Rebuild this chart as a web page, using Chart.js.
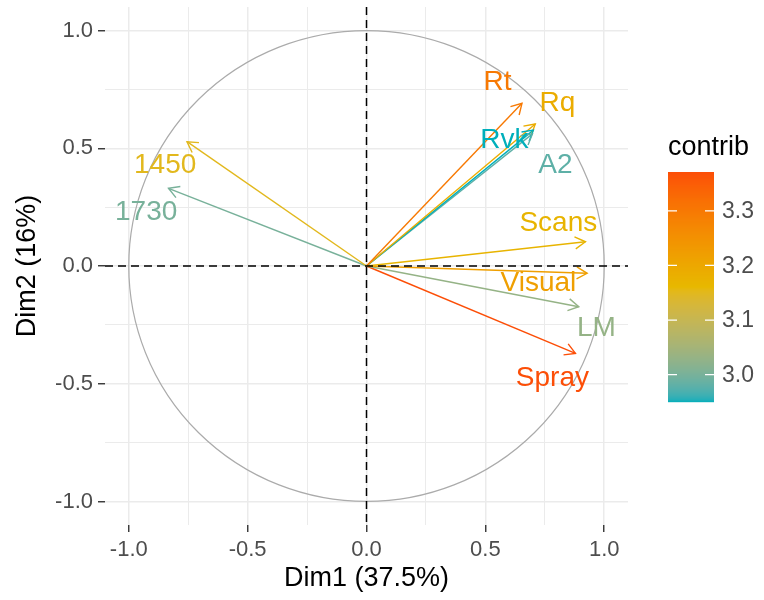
<!DOCTYPE html>
<html>
<head>
<meta charset="utf-8">
<script src="https://cdn.jsdelivr.net/npm/chart.js@4.4.0/dist/chart.umd.min.js"></script>
<style>
  html, body { margin: 0; padding: 0; background: #fff; }
</style>
</head>
<body>
<canvas id="pca-var" width="764" height="600"></canvas>
<script>
// variables of the PCA correlation circle
const variables = ['Rt', 'Rq', 'Rvk', 'A2', 'Scans', 'Visual', 'LM', 'Spray', '1450', '1730'];
const dim1 = [0.654, 0.710, 0.702, 0.698, 0.921, 0.928, 0.893, 0.879, -0.755, -0.833];
const dim2 = [0.691, 0.603, 0.577, 0.561, 0.103, -0.031, -0.173, -0.371, 0.528, 0.330];
const contrib = [3.30, 3.19, 2.95, 2.98, 3.17, 3.22, 3.03, 3.371, 3.15, 3.00];
// where the repelled text labels sit (data units)
const labelDim1 = [0.551, 0.803, 0.580, 0.795, 0.807, 0.723, 0.967, 0.782, -0.847, -0.927];
const labelDim2 = [0.781, 0.692, 0.535, 0.429, 0.183, -0.072, -0.263, -0.476, 0.429, 0.229];

const axisTicks = [-1, -0.5, 0, 0.5, 1];
const gridValues = [-1, -0.75, -0.5, -0.25, 0, 0.25, 0.5, 0.75, 1];
const legendTicks = [3.0, 3.1, 3.2, 3.3];
const gradientCols = ['#00AFBB', '#E7B800', '#FC4E07'];

const FONT = "'Liberation Sans', Arial, sans-serif";

// --- colour gradient in Lab space, like ggplot's gradientn ---
function hexToRgb(h) {
    return [1, 3, 5].map(i => parseInt(h.substr(i, 2), 16));
}
function toLin(c) { c /= 255; return c <= 0.04045 ? c / 12.92 : Math.pow((c + 0.055) / 1.055, 2.4); }
function fromLin(c) { c = c <= 0.0031308 ? 12.92 * c : 1.055 * Math.pow(c, 1 / 2.4) - 0.055; return Math.round(Math.max(0, Math.min(1, c)) * 255); }
const WP = [0.95047, 1, 1.08883];
function rgbToLab(rgb) {
    const [r, g, b] = rgb.map(toLin);
    const xyz = [
        0.4124 * r + 0.3576 * g + 0.1805 * b,
        0.2126 * r + 0.7152 * g + 0.0722 * b,
        0.0193 * r + 0.1192 * g + 0.9505 * b
    ].map((v, i) => v / WP[i]);
    const f = xyz.map(t => t > 0.008856 ? Math.cbrt(t) : 7.787 * t + 16 / 116);
    return [116 * f[1] - 16, 500 * (f[0] - f[1]), 200 * (f[1] - f[2])];
}
function labToRgb(lab) {
    const fy = (lab[0] + 16) / 116, fx = fy + lab[1] / 500, fz = fy - lab[2] / 200;
    const [x, y, z] = [fx, fy, fz].map((t, i) => (t ** 3 > 0.008856 ? t ** 3 : (t - 16 / 116) / 7.787) * WP[i]);
    const r = 3.2406 * x - 1.5372 * y - 0.4986 * z;
    const g = -0.9689 * x + 1.8758 * y + 0.0415 * z;
    const b = 0.0557 * x - 0.2040 * y + 1.0570 * z;
    return 'rgb(' + [r, g, b].map(fromLin).join(',') + ')';
}
const labStops = gradientCols.map(c => rgbToLab(hexToRgb(c)));
const cMin = Math.min(...contrib);
const cMax = Math.max(...contrib);
function contribColor(v) {
    let t = (v - cMin) / (cMax - cMin) * (labStops.length - 1);
    t = Math.max(0, Math.min(labStops.length - 1, t));
    const i = Math.min(Math.floor(t), labStops.length - 2);
    const f = t - i;
    return labToRgb(labStops[i].map((a, k) => a + (labStops[i + 1][k] - a) * f));
}
const colors = contrib.map(contribColor);

// --- plugins ---
const circlePlugin = {
    id: 'circle',
    beforeDatasetsDraw(chart) {
        const { ctx, scales: { x, y } } = chart;
        const cx = x.getPixelForValue(0), cy = y.getPixelForValue(0);
        const rx = x.getPixelForValue(1) - cx, ry = cy - y.getPixelForValue(1);
        ctx.save();
        ctx.strokeStyle = '#ABABAB';
        ctx.lineWidth = 1.2;
        ctx.beginPath();
        ctx.ellipse(cx, cy, rx, ry, 0, 0, Math.PI * 2);
        ctx.stroke();
        ctx.restore();
    }
};

const arrowPlugin = {
    id: 'arrowsAndLabels',
    afterDatasetsDraw(chart) {
        const { ctx, scales: { x, y }, chartArea } = chart;
        ctx.save();
        // arrow heads
        variables.forEach((name, i) => {
            const x0 = x.getPixelForValue(0), y0 = y.getPixelForValue(0);
            const x1 = x.getPixelForValue(dim1[i]), y1 = y.getPixelForValue(dim2[i]);
            const ang = Math.atan2(y1 - y0, x1 - x0);
            const len = 12, spread = Math.PI / 6;
            ctx.strokeStyle = colors[i];
            ctx.lineWidth = 1.4;
            ctx.beginPath();
            ctx.moveTo(x1 - len * Math.cos(ang - spread), y1 - len * Math.sin(ang - spread));
            ctx.lineTo(x1, y1);
            ctx.lineTo(x1 - len * Math.cos(ang + spread), y1 - len * Math.sin(ang + spread));
            ctx.stroke();
        });
        // labels
        ctx.font = '28px ' + FONT;
        ctx.textAlign = 'center';
        ctx.textBaseline = 'middle';
        variables.forEach((name, i) => {
            ctx.fillStyle = colors[i];
            ctx.fillText(name, x.getPixelForValue(labelDim1[i]), y.getPixelForValue(labelDim2[i]));
        });
        // dashed zero lines
        ctx.strokeStyle = '#000';
        ctx.lineWidth = 1.5;
        ctx.setLineDash([8, 5]);
        ctx.beginPath();
        const zx = x.getPixelForValue(0), zy = y.getPixelForValue(0);
        ctx.moveTo(chartArea.left, zy);
        ctx.lineTo(chartArea.right, zy);
        ctx.moveTo(zx, chartArea.top);
        ctx.lineTo(zx, chartArea.bottom);
        ctx.stroke();
        ctx.restore();
    }
};

const colorbarPlugin = {
    id: 'colorbar',
    afterDraw(chart) {
        const ctx = chart.ctx;
        const left = 668, width = 46, top = 172, height = 230;
        ctx.save();
        ctx.font = '27px ' + FONT;
        ctx.fillStyle = '#000';
        ctx.textAlign = 'left';
        ctx.textBaseline = 'middle';
        ctx.fillText('contrib', left, 148);
        for (let p = 0; p < height; p++) {
            const v = cMax - (p + 0.5) / height * (cMax - cMin);
            ctx.fillStyle = contribColor(v);
            ctx.fillRect(left, top + p, width, 1.2);
        }
        ctx.font = '23px ' + FONT;
        legendTicks.forEach(v => {
            const py = top + (cMax - v) / (cMax - cMin) * height;
            ctx.strokeStyle = '#fff';
            ctx.lineWidth = 1.2;
            ctx.beginPath();
            ctx.moveTo(left, py); ctx.lineTo(left + 9, py);
            ctx.moveTo(left + width - 9, py); ctx.lineTo(left + width, py);
            ctx.stroke();
            ctx.fillStyle = '#4D4D4D';
            ctx.fillText(v.toFixed(1), left + width + 8, py + 1);
        });
        ctx.restore();
    }
};

function linearAxis(titleText, isY) {
    return {
        type: 'linear',
        min: -1.1,
        max: 1.1,
        afterBuildTicks: scale => { scale.ticks = gridValues.map(v => ({ value: v })); },
        afterFit: scale => {
            if (isY) scale.width = 105;
            else scale.height = 75;
            scale.paddingTop = 0;
            scale.paddingBottom = 0;
            scale.paddingLeft = 0;
            scale.paddingRight = 0;
        },
        border: { display: false },
        grid: {
            color: '#EBEBEB',
            lineWidth: c => axisTicks.includes(c.tick && c.tick.value) ? 1.5 : 1,
            tickColor: c => axisTicks.includes(c.tick && c.tick.value) ? '#333333' : 'rgba(0,0,0,0)',
            tickLength: 7,
            tickWidth: 1.4
        },
        ticks: {
            autoSkip: false,
            maxRotation: 0,
            padding: 5,
            color: '#4D4D4D',
            font: { family: FONT, size: 22 },
            callback: v => axisTicks.includes(v) ? v.toFixed(1) : ''
        },
        title: {
            display: true,
            text: titleText,
            color: '#000',
            font: { family: FONT, size: 27 },
            padding: isY ? { top: 11, bottom: 0 } : { top: 0, bottom: 5 }
        }
    };
}

const datasets = variables.map((name, i) => ({
    label: name,
    data: [{ x: 0, y: 0 }, { x: dim1[i], y: dim2[i] }],
    showLine: true,
    borderColor: colors[i],
    borderWidth: 1.4,
    pointRadius: 0,
    fill: false
}));

new Chart(document.getElementById('pca-var'), {
    type: 'scatter',
    data: { datasets },
    options: {
        responsive: false,
        animation: false,
        layout: { padding: { left: 0, top: 7, right: 136, bottom: 0 } },
        plugins: { legend: { display: false }, tooltip: { enabled: false } },
        scales: {
            x: linearAxis('Dim1 (37.5%)', false),
            y: linearAxis('Dim2 (16%)', true)
        }
    },
    plugins: [circlePlugin, arrowPlugin, colorbarPlugin]
});
</script>
</body>
</html>
